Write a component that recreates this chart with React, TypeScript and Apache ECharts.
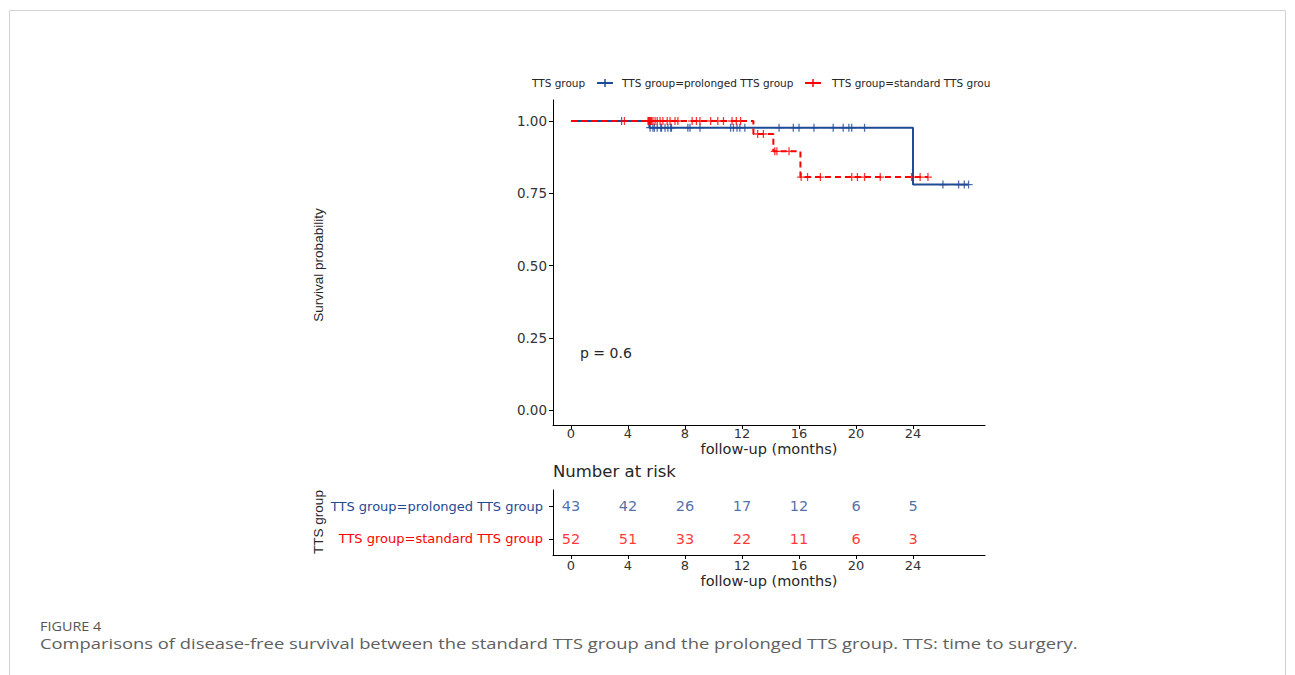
import React, { useEffect, useRef } from "react";
import * as echarts from "echarts";

// ---- data ----
const groupNames = ["TTS group=prolonged TTS group", "TTS group=standard TTS group"];
const legendLabels = ["TTS group=prolonged TTS group", "TTS group=standard TTS grou"];

// Kaplan-Meier steps: event times and survival after each event
const prolongedStepTimes = [0, 5.5, 24];
const prolongedStepSurv = [1, 0.977, 0.78];
const prolongedEnd = 27.9;
const prolongedCensor = [
  3.55, 5.55, 5.75, 5.85, 6.05, 6.3, 6.35, 6.6, 6.8, 7.0, 7.05, 8.2, 8.35, 9.05,
  11.2, 11.4, 11.65, 11.85, 12.2, 14.6, 15.6, 16.0, 17.05, 18.4, 19.1, 19.5,
  19.7, 20.6, 26.1, 27.2, 27.6, 27.9,
];

const standardStepTimes = [0, 12.8, 14.2, 16.1];
const standardStepSurv = [1, 0.955, 0.895, 0.806];
const standardEnd = 25.05;
const standardCensor = [
  3.75, 5.4, 5.45, 5.5, 5.55, 5.6, 5.65, 5.75, 5.9, 6.05, 6.25, 6.45, 6.75, 6.95,
  7.3, 7.5, 8.5, 8.8, 9.05, 9.8, 10.3, 10.7, 11.3, 11.6, 11.9, 13.1, 13.5, 14.3,
  14.45, 15.3, 16.15, 16.6, 17.5, 19.7, 20.1, 20.6, 21.7, 23.9, 24.5, 25.05,
];

const xTicks = [0, 4, 8, 12, 16, 20, 24];
const yTicks = [0, 0.25, 0.5, 0.75, 1];
const riskTimes = [0, 4, 8, 12, 16, 20, 24];
const riskProlonged = [43, 42, 26, 17, 12, 6, 5];
const riskStandard = [52, 51, 33, 22, 11, 6, 3];
const pValueText = "p = 0.6";

// ---- helpers ----
const BLUE = "#1f4a96";
const RED = "#ff0000";
const TXT = "#262626";
const CROSS = "path://M4.2,0H5.8V4.2H10V5.8H5.8V10H4.2V5.8H0V4.2H4.2Z";

function stepLine(times: number[], surv: number[], end: number) {
  const pts: number[][] = [[times[0], surv[0]]];
  for (let i = 1; i < times.length; i++) {
    pts.push([times[i], surv[i - 1]]);
    pts.push([times[i], surv[i]]);
  }
  pts.push([end, surv[surv.length - 1]]);
  return pts;
}
function survAt(times: number[], surv: number[], t: number) {
  let s = surv[0];
  for (let i = 0; i < times.length; i++) if (times[i] <= t) s = surv[i];
  return s;
}

const X0 = 571;
const PX_PER_MONTH = 14.25;
const GL = 553;
const GW = 432;
const xMin = (GL - X0) / PX_PER_MONTH;
const xMax = (GL + GW - X0) / PX_PER_MONTH;
const Y1 = 121;
const Y0 = 410;
const GT = 100;
const GH = 325;
const pxPerUnit = Y0 - Y1;
const yMax = 1 + (Y1 - GT) / pxPerUnit;
const yMin = -(GT + GH - Y0) / pxPerUnit;

const tickFont = "DejaVu Sans";

export default function App() {
  const ref = useRef<HTMLDivElement>(null);
  useEffect(() => {
    if (!ref.current) return;
    const chart = echarts.init(ref.current, undefined, { renderer: "svg" });

    const axisCommonX = (gridIndex: number, margin: number) => ({
      type: "value" as const,
      gridIndex,
      min: xMin,
      max: xMax,
      splitLine: { show: false },
      axisLine: { show: true, onZero: false, lineStyle: { color: "#000", width: 1 } },
      axisTick: { show: true, customValues: xTicks, length: 4, lineStyle: { color: "#000" } },
      axisLabel: {
        customValues: xTicks,
        margin,
        fontFamily: tickFont,
        fontSize: 13,
        lineHeight: 13,
        color: "#333",
      },
    });

    const option: any = {
      animation: false,
      backgroundColor: "#fff",
      grid: [
        { left: GL, top: GT, width: GW, height: GH },
        { left: GL, top: 490, width: GW, height: 65 },
      ],
      xAxis: [axisCommonX(0, 2), axisCommonX(1, 4)],
      yAxis: [
        {
          type: "value",
          gridIndex: 0,
          min: yMin,
          max: yMax,
          splitLine: { show: false },
          axisLine: { show: true, onZero: false, lineStyle: { color: "#000", width: 1 } },
          axisTick: { show: true, customValues: yTicks, length: 4, lineStyle: { color: "#000" } },
          axisLabel: {
            customValues: yTicks,
            formatter: (v: number) => v.toFixed(2),
            margin: 6,
            fontFamily: tickFont,
            fontSize: 13.5,
            color: "#333",
          },
        },
        {
          type: "category",
          gridIndex: 1,
          data: groupNames,
          inverse: true,
          axisLine: { show: true, onZero: false, lineStyle: { color: "#000", width: 1 } },
          axisTick: { show: true, alignWithLabel: true, length: 4, lineStyle: { color: "#000" } },
          axisLabel: {
            margin: 10,
            fontFamily: tickFont,
            fontSize: 13,
            color: (_v: any, i: number) => (i === 0 ? BLUE : RED),
          },
        },
      ],
      series: [
        {
          name: legendLabels[0],
          type: "line",
          xAxisIndex: 0,
          yAxisIndex: 0,
          data: stepLine(prolongedStepTimes, prolongedStepSurv, prolongedEnd),
          showSymbol: false,
          symbol: "none",
          lineStyle: { color: BLUE, width: 2 },
          z: 2,
        },
        {
          name: legendLabels[1],
          type: "line",
          xAxisIndex: 0,
          yAxisIndex: 0,
          data: stepLine(standardStepTimes, standardStepSurv, standardEnd),
          showSymbol: false,
          symbol: "none",
          lineStyle: { color: RED, width: 2, type: [6, 4] },
          z: 3,
        },
        {
          type: "scatter",
          xAxisIndex: 0,
          yAxisIndex: 0,
          data: prolongedCensor.map((t) => [t, survAt(prolongedStepTimes, prolongedStepSurv, t)]),
          symbol: CROSS,
          symbolSize: 8,
          itemStyle: { color: BLUE },
          z: 4,
        },
        {
          type: "scatter",
          xAxisIndex: 0,
          yAxisIndex: 0,
          data: standardCensor.map((t) => [t, survAt(standardStepTimes, standardStepSurv, t)]),
          symbol: CROSS,
          symbolSize: 8,
          itemStyle: { color: RED },
          z: 5,
        },
        {
          type: "scatter",
          xAxisIndex: 1,
          yAxisIndex: 1,
          data: riskTimes.map((t, i) => [t, groupNames[0], riskProlonged[i]]),
          symbolSize: 1,
          itemStyle: { color: "rgba(0,0,0,0)" },
          label: {
            show: true,
            position: "inside",
            formatter: (p: any) => String(p.value[2]),
            color: BLUE,
            fontFamily: tickFont,
            fontSize: 14.5,
          },
        },
        {
          type: "scatter",
          xAxisIndex: 1,
          yAxisIndex: 1,
          data: riskTimes.map((t, i) => [t, groupNames[1], riskStandard[i]]),
          symbolSize: 1,
          itemStyle: { color: "rgba(0,0,0,0)" },
          label: {
            show: true,
            position: "inside",
            formatter: (p: any) => String(p.value[2]),
            color: RED,
            fontFamily: tickFont,
            fontSize: 14.5,
          },
        },
      ],
      graphic: [
        {
          type: "rect",
          z: -10,
          shape: { x: 9.5, y: 10.5, width: 1276, height: 720 },
          style: { fill: "none", stroke: "#d2d2d2", lineWidth: 1 },
          silent: true,
        },
        // legend
        {
          type: "text",
          x: 532,
          y: 83,
          style: { text: "TTS group", font: "10.5px DejaVu Sans", fill: TXT, align: "left", verticalAlign: "middle" },
        },
        { type: "line", shape: { x1: 597, y1: 83, x2: 613, y2: 83 }, style: { stroke: BLUE, lineWidth: 2 } },
        { type: "line", shape: { x1: 605, y1: 79, x2: 605, y2: 87 }, style: { stroke: BLUE, lineWidth: 1.5 } },
        {
          type: "text",
          x: 622,
          y: 83,
          style: { text: legendLabels[0], font: "10.5px DejaVu Sans", fill: TXT, align: "left", verticalAlign: "middle" },
        },
        { type: "line", shape: { x1: 805, y1: 83, x2: 821, y2: 83 }, style: { stroke: RED, lineWidth: 2 } },
        { type: "line", shape: { x1: 813, y1: 79, x2: 813, y2: 87 }, style: { stroke: RED, lineWidth: 1.5 } },
        {
          type: "text",
          x: 832,
          y: 83,
          style: { text: legendLabels[1], font: "10.5px DejaVu Sans", fill: TXT, align: "left", verticalAlign: "middle" },
        },
        // axis titles
        {
          type: "text",
          x: 318,
          y: 265,
          rotation: Math.PI / 2,
          style: { text: "Survival probability", font: "13.5px Liberation Sans", fill: TXT, align: "center", verticalAlign: "middle" },
        },
        {
          type: "text",
          x: 769,
          y: 449,
          style: { text: "follow-up (months)", font: "14.5px DejaVu Sans", fill: TXT, align: "center", verticalAlign: "middle" },
        },
        {
          type: "text",
          x: 580,
          y: 353,
          style: { text: pValueText, font: "14px DejaVu Sans", fill: TXT, align: "left", verticalAlign: "middle" },
        },
        {
          type: "text",
          x: 553,
          y: 471,
          style: { text: "Number at risk", font: "16.5px DejaVu Sans", fill: TXT, align: "left", verticalAlign: "middle" },
        },
        {
          type: "text",
          x: 318,
          y: 522,
          rotation: Math.PI / 2,
          style: { text: "TTS group", font: "13.5px Liberation Sans", fill: TXT, align: "center", verticalAlign: "middle" },
        },
        {
          type: "text",
          x: 769,
          y: 581,
          style: { text: "follow-up (months)", font: "14.5px DejaVu Sans", fill: TXT, align: "center", verticalAlign: "middle" },
        },
        // caption
        {
          type: "text",
          x: 40,
          y: 626,
          scaleX: 1.2,
          style: { text: "FIGURE 4", font: "12px Open Sans", fill: "#555", align: "left", verticalAlign: "middle" },
        },
        {
          type: "text",
          x: 40,
          y: 643,
          scaleX: 1.225,
          style: {
            text: "Comparisons of disease-free survival between the standard TTS group and the prolonged TTS group. TTS: time to surgery.",
            font: "15px Open Sans",
            fill: "#606060",
            align: "left",
            verticalAlign: "middle",
          },
        },
      ],
    };
    chart.setOption(option);
    return () => chart.dispose();
  }, []);
  return (
    <div
      ref={ref}
      style={{ position: "fixed", left: 0, top: 0, width: 1295, height: 675 }}
    />
  );
}
